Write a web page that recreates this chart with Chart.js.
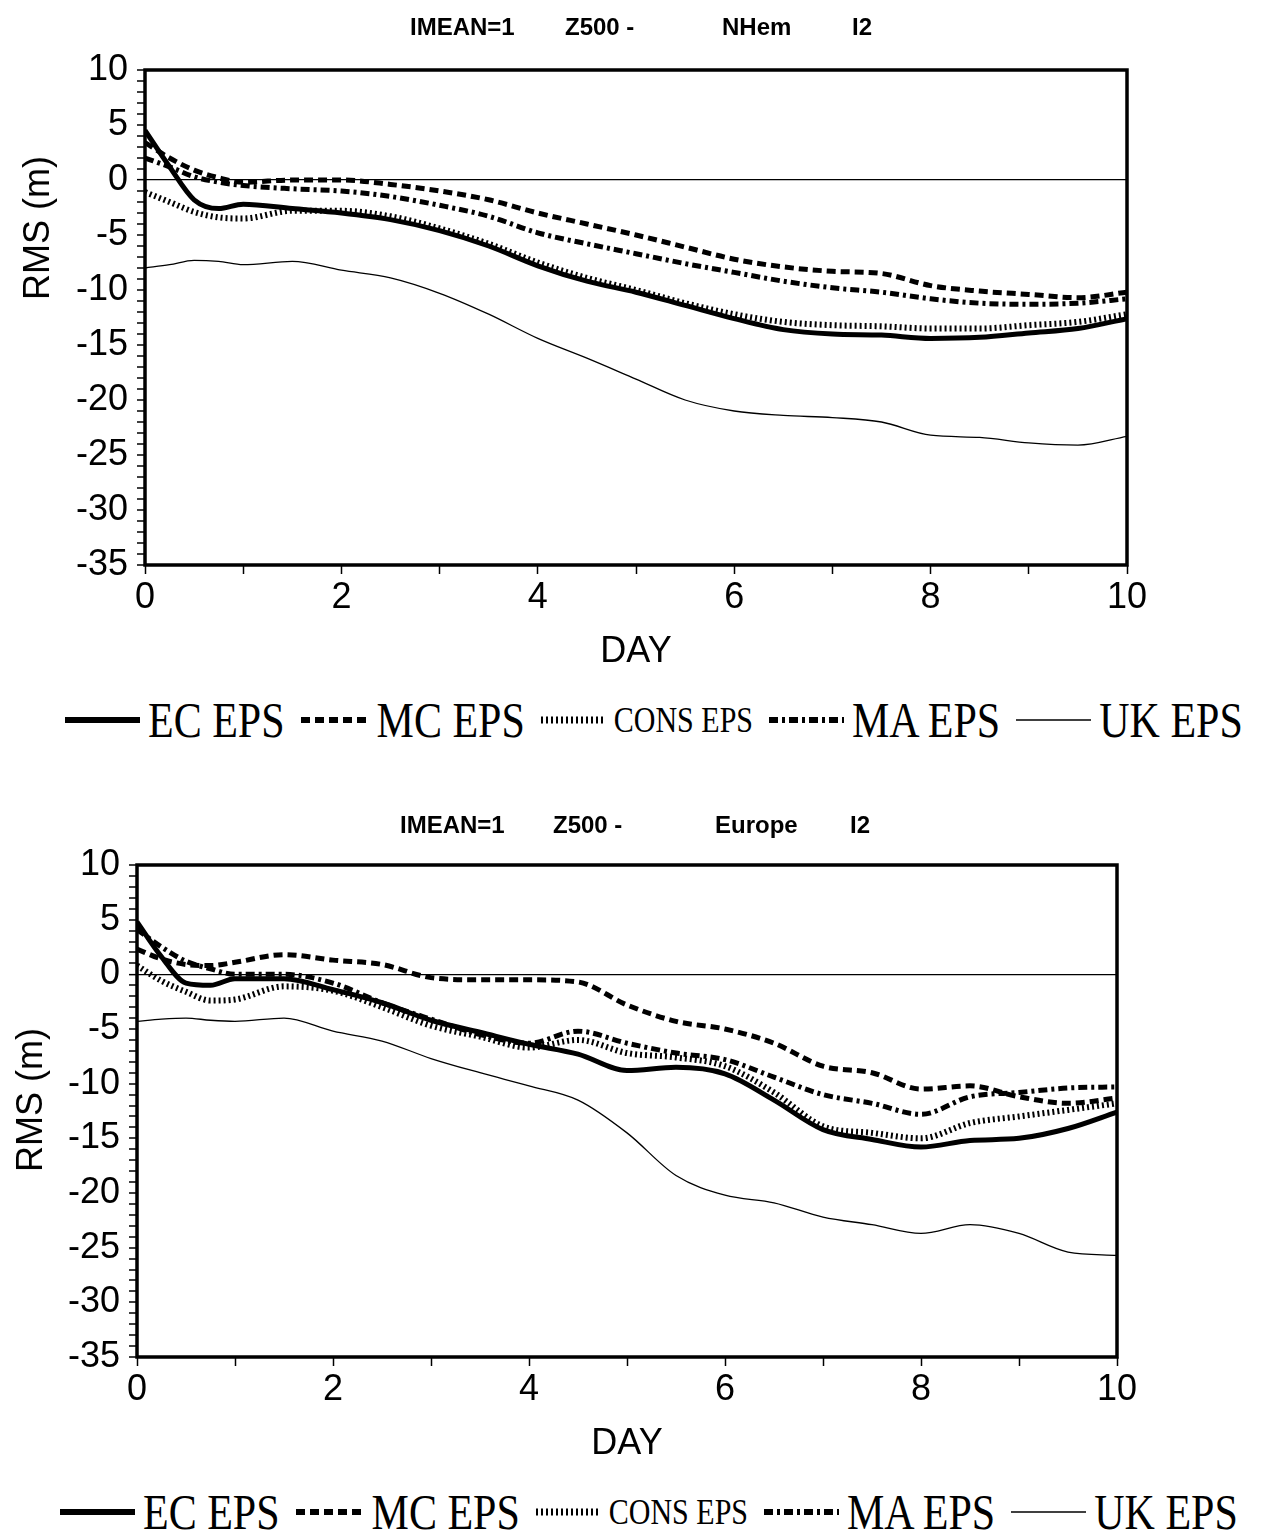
<!DOCTYPE html>
<html><head><meta charset="utf-8">
<script src="https://cdn.jsdelivr.net/npm/chart.js@4.4.1/dist/chart.umd.min.js"></script>
<style>
html,body{margin:0;padding:0;background:#fff;}
body{width:1277px;height:1538px;position:relative;overflow:hidden;font-family:"Liberation Sans",Arial,sans-serif;}
canvas{position:absolute;}
.ylab{position:absolute;font:36px "Liberation Sans",Arial,sans-serif;color:#000;transform:translate(-50%,-50%) rotate(-90deg);white-space:nowrap;}
.ttl{position:absolute;font:bold 24px "Liberation Sans",Arial,sans-serif;color:#000;white-space:nowrap;transform:translateY(-50%);}
.legend{position:absolute;display:flex;align-items:center;font-family:"Liberation Serif","Times New Roman",serif;color:#000;white-space:nowrap;height:46px;}
.legend svg{display:block;}
.legend .t{font-size:42px;display:inline-block;transform:scaleY(1.2);margin:0 16px 0 8px;line-height:46px;}
.legend .t.small{font-size:30px;}
</style></head><body>
<canvas id="c1" width="1277" height="680" style="left:0;top:0"></canvas>
<div id="t1"></div>
<div class="ylab" style="left:37px;top:228px">RMS (m)</div>
<div class="legend" id="lg1" style="left:65px;top:697px"></div>
<canvas id="c2" width="1277" height="677" style="left:0;top:795px"></canvas>
<div id="t2"></div>
<div class="ylab" style="left:30px;top:1100px">RMS (m)</div>
<div class="legend" id="lg2" style="left:60px;top:1489px"></div>
<script>
// ---- data ----
const days = [0, 0.25, 0.5, 0.75, 1, 1.5, 2, 2.5, 3, 3.5, 4, 4.5, 5, 5.5, 6, 6.5, 7, 7.5, 8, 8.5, 9, 9.5, 10];
const seriesNames = ['EC EPS', 'MC EPS', 'CONS EPS', 'MA EPS', 'UK EPS'];
const titleNH = ['IMEAN=1', 'Z500 -', 'NHem', 'I2'];
const titleEU = ['IMEAN=1', 'Z500 -', 'Europe', 'I2'];
const yTitle = 'RMS (m)';
const xTitle = 'DAY';

const ecNH   = [4.5, 1.2, -1.8, -2.6, -2.2, -2.6, -3.0, -3.6, -4.6, -6.0, -7.8, -9.2, -10.2, -11.4, -12.6, -13.6, -14.0, -14.1, -14.4, -14.3, -13.9, -13.5, -12.6];
const mcNH   = [3.4, 2.0, 0.9, 0.2, -0.2, 0.0, 0.0, -0.4, -1.0, -1.8, -3.0, -4.0, -5.0, -6.1, -7.2, -7.9, -8.3, -8.5, -9.6, -10.1, -10.4, -10.7, -10.2];
const consNH = [-1.1, -2.0, -2.9, -3.4, -3.5, -2.8, -2.8, -3.3, -4.4, -5.8, -7.5, -8.9, -10.0, -11.2, -12.2, -12.9, -13.2, -13.3, -13.5, -13.5, -13.2, -12.9, -12.2];
const maNH   = [2.0, 1.2, 0.3, -0.2, -0.5, -0.8, -1.0, -1.5, -2.3, -3.3, -4.8, -5.8, -6.7, -7.6, -8.4, -9.2, -9.8, -10.2, -10.8, -11.2, -11.3, -11.2, -10.8];
const ukNH   = [-8.0, -7.7, -7.3, -7.4, -7.7, -7.4, -8.2, -8.9, -10.3, -12.2, -14.4, -16.2, -18.1, -20.0, -21.0, -21.4, -21.6, -22.0, -23.2, -23.4, -23.9, -24.1, -23.3];

const ecEU   = [4.8, 1.6, -0.8, -1.0, -0.4, -0.4, -1.4, -2.6, -4.2, -5.3, -6.4, -7.3, -8.8, -8.5, -9.1, -11.5, -14.2, -15.1, -15.8, -15.2, -15.0, -14.1, -12.6];
const mcEU   = [2.3, 1.4, 0.9, 0.8, 1.1, 1.8, 1.3, 0.9, -0.3, -0.5, -0.5, -0.7, -2.8, -4.3, -5.0, -6.3, -8.4, -9.0, -10.5, -10.2, -11.2, -11.8, -11.3];
const consEU = [0.8, -0.6, -1.6, -2.4, -2.3, -1.1, -1.5, -3.0, -4.7, -5.7, -6.7, -6.0, -7.2, -7.6, -8.4, -10.8, -13.9, -14.5, -15.0, -13.6, -13.0, -12.4, -11.8];
const maEU   = [4.1, 2.5, 1.2, 0.5, 0.0, 0.0, -0.8, -2.6, -4.1, -5.5, -6.3, -5.2, -6.3, -7.2, -7.8, -9.4, -11.0, -11.8, -12.8, -11.2, -10.8, -10.4, -10.3];
const ukEU   = [-4.3, -4.1, -4.0, -4.2, -4.3, -4.0, -5.2, -6.1, -7.7, -9.0, -10.2, -11.5, -14.5, -18.4, -20.2, -20.9, -22.2, -22.9, -23.7, -22.9, -23.7, -25.4, -25.7];

// ---- styles ----
const lineStyles = [
  {borderWidth: 5, borderDash: []},
  {borderWidth: 5, borderDash: [9, 5]},
  {borderWidth: 6, borderDash: [2, 3]},
  {borderWidth: 5, borderDash: [9, 4, 3, 4]},
  {borderWidth: 1.3, borderDash: []}
];
const legendSvg = [
  {w: 6, dash: '', len: 75},
  {w: 6, dash: '9 5', len: 68},
  {w: 7, dash: '2 3', len: 65},
  {w: 6, dash: '9 4 3 4', len: 75},
  {w: 1.5, dash: '', len: 75}
];
const sansFont = '"Liberation Sans", Arial, sans-serif';

const framePlugin = {
  id: 'frame',
  afterDatasetsDraw(chart) {
    const {ctx, chartArea: a} = chart;
    ctx.save();
    ctx.lineWidth = 3.5;
    ctx.strokeStyle = '#000';
    ctx.strokeRect(a.left, a.top, a.right - a.left, a.bottom - a.top);
    ctx.restore();
  }
};

function makeChart(id, series, yAxisWidth, rightPad) {
  const order = [4, 2, 3, 1, 0];
  const datasets = order.map(i => ({
    label: seriesNames[i],
    data: days.map((d, k) => ({x: d, y: series[i][k]})),
    borderColor: '#000',
    backgroundColor: '#000',
    borderWidth: lineStyles[i].borderWidth,
    borderDash: lineStyles[i].borderDash,
    borderCapStyle: 'butt',
    pointRadius: 0,
    cubicInterpolationMode: 'monotone',
    fill: false
  }));
  return new Chart(document.getElementById(id), {
    type: 'line',
    data: {datasets},
    plugins: [framePlugin],
    options: {
      responsive: false,
      animation: false,
      devicePixelRatio: 1,
      layout: {padding: {left: 0, right: rightPad, top: 70, bottom: 0}},
      plugins: {
        legend: {display: false},
        tooltip: {enabled: false},
        title: {display: false}
      },
      scales: {
        x: {
          type: 'linear', min: 0, max: 10,
          afterFit(s) { s.height = 115; },
          border: {display: false},
          grid: {drawOnChartArea: false, drawTicks: true, tickLength: 9, tickColor: '#000', tickWidth: 1.5},
          ticks: {
            stepSize: 1, autoSkip: false, maxRotation: 0, padding: 2, color: '#000',
            font: {family: sansFont, size: 36},
            callback: v => (v % 2 === 0 ? String(v) : '')
          },
          title: {display: true, text: xTitle, color: '#000', font: {family: sansFont, size: 36}, padding: {top: 0, bottom: 6}}
        },
        y: {
          type: 'linear', min: -35, max: 10,
          afterFit(s) { s.width = yAxisWidth; },
          border: {display: false},
          grid: {
            drawTicks: true, tickLength: 8, tickColor: '#000', tickWidth: 1.5,
            color: c => (c.tick && c.tick.value === 0 ? '#000' : 'rgba(0,0,0,0)'),
            lineWidth: c => (c.tick && c.tick.value === 0 ? 1.3 : 0)
          },
          ticks: {
            stepSize: 1, autoSkip: false, maxTicksLimit: 200, padding: 9, color: '#000',
            font: {family: sansFont, size: 36},
            callback: v => (v % 5 === 0 ? String(v) : '')
          }
        }
      }
    }
  });
}

function makeTitle(id, parts, lefts, top) {
  const el = document.getElementById(id);
  parts.forEach((p, i) => {
    const s = document.createElement('div');
    s.className = 'ttl';
    s.style.left = lefts[i] + 'px';
    s.style.top = top + 'px';
    s.textContent = p;
    el.appendChild(s);
  });
}

function makeLegend(id) {
  const el = document.getElementById(id);
  seriesNames.forEach((name, i) => {
    const s = legendSvg[i];
    const svgNS = 'http://www.w3.org/2000/svg';
    const svg = document.createElementNS(svgNS, 'svg');
    svg.setAttribute('width', s.len); svg.setAttribute('height', '20');
    const ln = document.createElementNS(svgNS, 'line');
    ln.setAttribute('x1', '0'); ln.setAttribute('y1', '10');
    ln.setAttribute('x2', s.len); ln.setAttribute('y2', '10');
    ln.setAttribute('stroke', '#000'); ln.setAttribute('stroke-width', s.w);
    if (s.dash) ln.setAttribute('stroke-dasharray', s.dash);
    svg.appendChild(ln);
    el.appendChild(svg);
    const t = document.createElement('span');
    t.className = 't' + (i === 2 ? ' small' : '');
    t.textContent = name;
    el.appendChild(t);
  });
}

makeChart('c1', [ecNH, mcNH, consNH, maNH, ukNH], 145, 150);
makeChart('c2', [ecEU, mcEU, consEU, maEU, ukEU], 137, 160);
makeTitle('t1', titleNH, [410, 565, 722, 852], 27);
makeTitle('t2', titleEU, [400, 553, 715, 850], 825);
makeLegend('lg1');
makeLegend('lg2');
</script>
</body></html>
